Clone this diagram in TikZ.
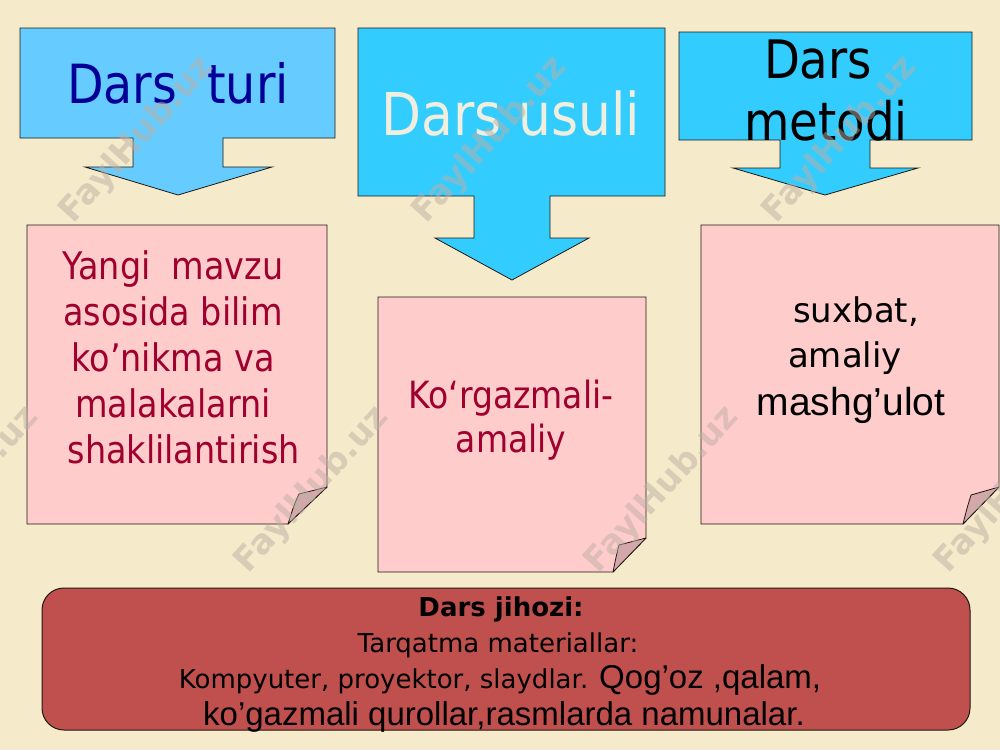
\documentclass[tikz,border=0pt]{standalone}
\usepackage{fontspec}
\setmainfont{DejaVu Sans}
\newfontfamily\tah{DejaVu Sans}[FakeStretch=0.88]
\newfontfamily\arialf{Liberation Sans}
\definecolor{bgc}{RGB}{245,234,202}
\definecolor{blueA}{RGB}{102,204,255}
\definecolor{blueB}{RGB}{51,204,255}
\definecolor{notepink}{RGB}{255,204,204}
\definecolor{flapc}{RGB}{212,168,170}
\definecolor{darkred}{RGB}{160,0,46}
\definecolor{navy}{RGB}{0,0,153}
\definecolor{creamtxt}{RGB}{240,238,222}
\definecolor{brick}{RGB}{192,80,77}
\definecolor{edge}{RGB}{30,25,20}
\definecolor{wmc}{RGB}{190,176,165}
\begin{document}
\begin{tikzpicture}[x=1pt,y=-1pt,
  callout/.style={draw=edge, line width=0.8pt, line join=miter},
  note/.style={draw=edge, fill=notepink, line width=0.8pt, line join=miter},
  flap/.style={draw=edge, fill=flapc, line width=0.8pt, line join=round},
  txt/.style={inner sep=0pt, outer sep=0pt},
  wm/.style={inner sep=0pt, font=\bfseries\fontsize{34}{34}\selectfont, text=wmc, text opacity=0.5, rotate=48}
]
\fill[bgc] (0,0) rectangle (1000,750);
\useasboundingbox (0,0) rectangle (1000,750);

% callouts
\draw[callout, fill=blueA] (20,28) -- (335,28) -- (335,138) -- (223,138) -- (223,167) -- (272,167)
  -- (178,195) -- (85,167) -- (133,167) -- (133,138) -- (20,138) -- cycle;
\draw[callout, fill=blueB] (358,28) -- (665,28) -- (665,196) -- (550,196) -- (550,238) -- (589,238)
  -- (512,280) -- (435,238) -- (474,238) -- (474,196) -- (358,196) -- cycle;
\draw[callout, fill=blueB] (679,32) -- (972,32) -- (972,140) -- (870,140) -- (870,168) -- (918,168)
  -- (825,195) -- (733,168) -- (780,168) -- (780,140) -- (679,140) -- cycle;

\node[txt, anchor=base, text=navy, font=\tah\fontsize{54}{60}\selectfont] (turi) at (178,103) {Dars\ \ turi};
\node[txt, anchor=base, text=creamtxt, font=\tah\fontsize{59}{66}\selectfont] (usuli) at (511,135) {Dars usuli};
\node[txt, anchor=base, text=black, font=\tah\fontsize{53}{62}\selectfont] (dars3) at (818,78) {Dars};
\node[txt, anchor=base, text=black, font=\tah\fontsize{53}{62}\selectfont] (metodi) at (826,140) {metodi};

% notes
\draw[note] (27,225) -- (327,225) -- (327,487) -- (288,524) -- (27,524) -- cycle;
\draw[flap] (327,487) -- (299,494) .. controls (294,505) .. (288,524) -- cycle;
\draw[note] (378,297) -- (646,297) -- (646,538) -- (613,572) -- (378,572) -- cycle;
\draw[flap] (646,538) -- (619,545) .. controls (616,557) .. (613,572) -- cycle;
\draw[note] (701,225) -- (999,225) -- (999,487) -- (963,524) -- (701,524) -- cycle;
\draw[flap] (999,487) -- (971,495) .. controls (967,508) .. (963,524) -- cycle;

\node[txt, text=darkred, align=center, font=\tah\fontsize{38}{46}\selectfont] (t1) at (173,357)
  {Yangi\ \ mavzu\hspace{0.4em}\\asosida bilim\\ko’nikma va\\malakalarni\\\ \ shaklilantirish};
\node[txt, text=darkred, align=center, font=\tah\fontsize{37.5}{44}\selectfont] (t2) at (511,420)
  {Ko‘rgazmali-\\amaliy};
\node[txt, anchor=base, text=black, font=\fontsize{34}{40}\selectfont] (t3a) at (856,322) {suxbat,};
\node[txt, anchor=base, text=black, font=\fontsize{34}{40}\selectfont] (t3b) at (845,367) {amaliy};
\node[txt, anchor=base, text=black, font=\arialf\fontsize{39}{46}\selectfont] (t3c) at (851,415) {mashg’ulot};

% bottom box
\draw[draw=edge, fill=brick, line width=1pt, rounded corners=22pt] (42,588) rectangle (970,730);
\node[txt, anchor=base, font=\bfseries\fontsize{26}{30}\selectfont] (jih) at (501,616) {Dars jihozi:};
\node[txt, anchor=base, font=\fontsize{26}{30}\selectfont] (tarq) at (498,652) {Tarqatma materiallar:};
\node[txt, anchor=base, font=\fontsize{26}{30}\selectfont] (komp) at (500,688)
  {Kompyuter, proyektor, slaydlar. {\arialf\fontsize{33}{38}\selectfont Qog’oz ,qalam,}};
\node[txt, anchor=base, font=\arialf\fontsize{33}{38}\selectfont] (kog) at (504,725)
  {ko’gazmali qurollar,rasmlarda namunalar.};

% watermarks
\node[wm] (wm1) at (137,140) {FaylHub.uz};
\node[wm] (wm2) at (490,140) {FaylHub.uz};
\node[wm] (wm3) at (840,140) {FaylHub.uz};
\node[wm] (wm4) at (-38,490) {FaylHub.uz};
\node[wm] (wm5) at (312,490) {FaylHub.uz};
\node[wm] (wm6) at (662,490) {FaylHub.uz};
\node[wm] (wm7) at (1012,490) {FaylHub.uz};
\end{tikzpicture}
\end{document}
